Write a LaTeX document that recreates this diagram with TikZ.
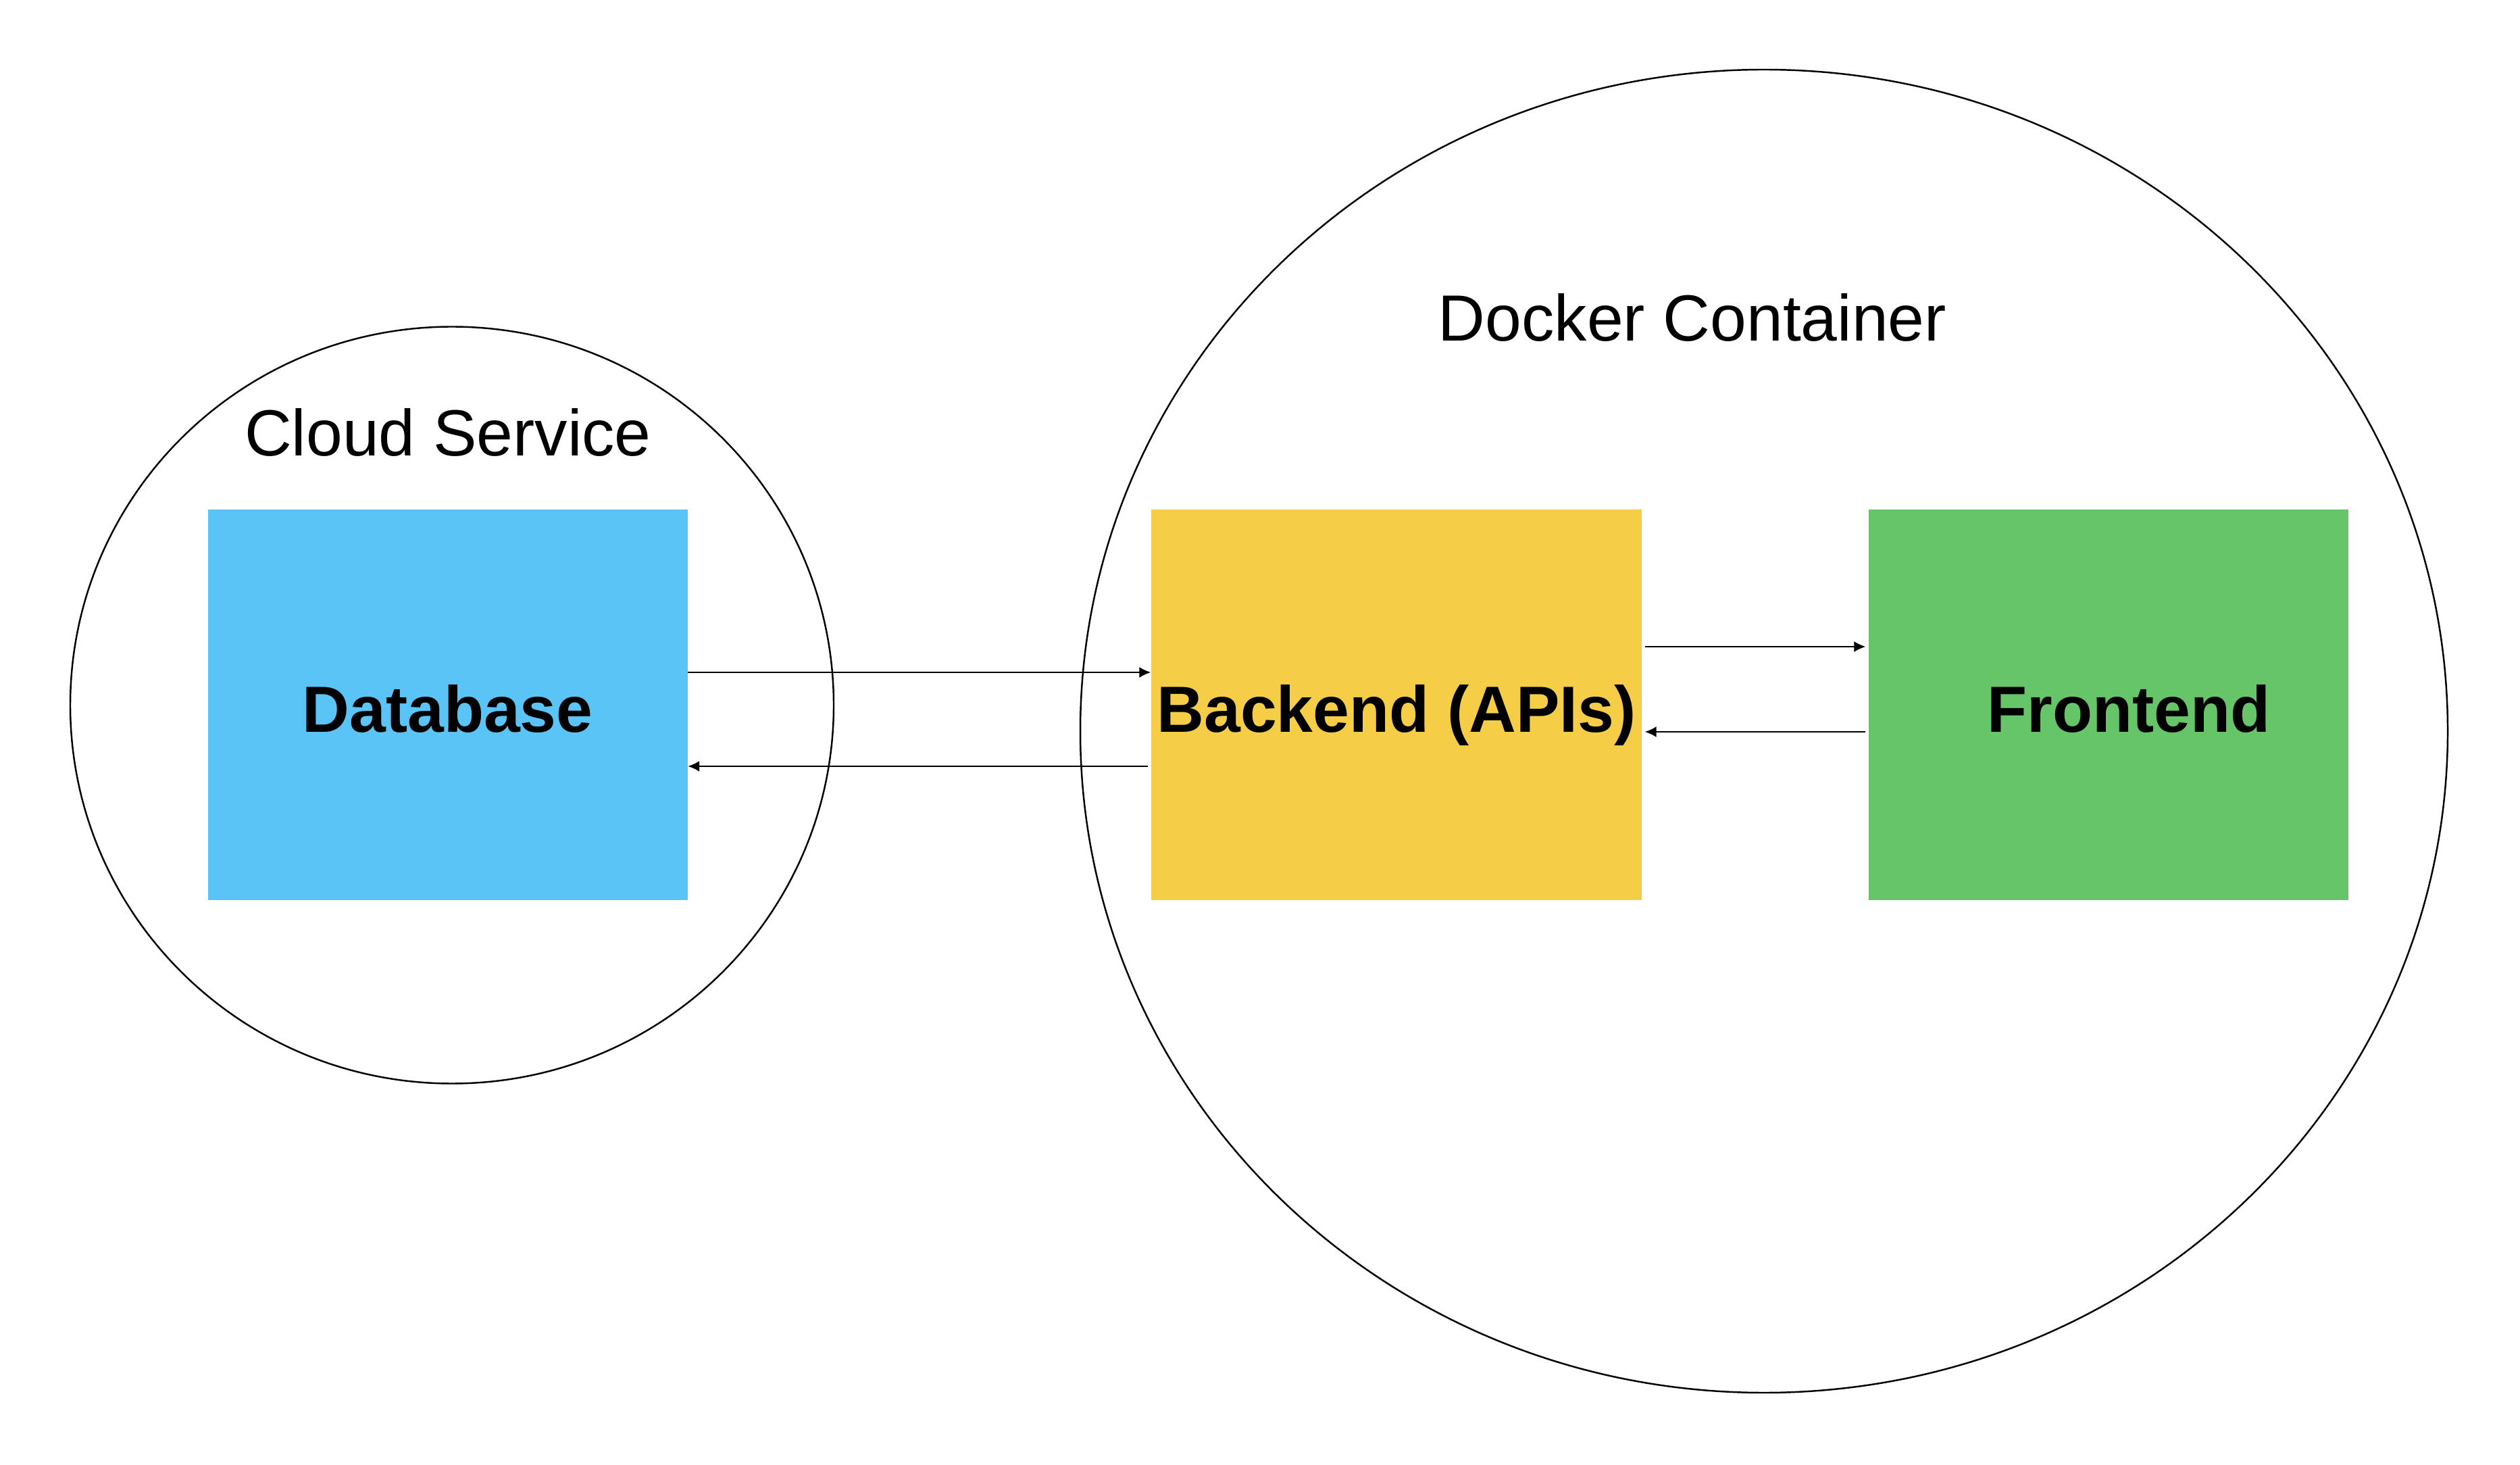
\documentclass[tikz,border=0pt]{standalone}
\usepackage{fontspec}
\setmainfont{Liberation Sans}
\usetikzlibrary{arrows.meta,shapes.geometric}
\tikzset{>={Latex[length=1.7mm,width=1.6mm]}}
\definecolor{dbblue}{RGB}{91,196,246}
\definecolor{beyellow}{RGB}{246,205,70}
\definecolor{fegreen}{RGB}{102,197,104}
\tikzstyle{block}=[rectangle,inner sep=0pt,minimum height=5.78cm,text height=0.82cm,text depth=0pt,font=\fontsize{27.5}{33}\selectfont\bfseries]
\tikzstyle{hull}=[ellipse,draw=black,line width=0.7pt,inner sep=0pt]
\tikzstyle{title}=[font=\fontsize{27.5}{33}\selectfont]
\tikzstyle{link}=[->,line width=0.6pt]

\begin{document}
\begin{tikzpicture}
\def \midy {11.24};
\def \wid {7.1};

\useasboundingbox (0,0) rectangle (37.30,21.67);

% containers
\node[hull,minimum width=11.30cm,minimum height=11.20cm] (cloud) at (6.69,11.235) {};
\node[hull,minimum width=20.24cm,minimum height=19.58cm] (docker) at (26.11,10.85) {};

\node[title] (cloudt) at (6.63,15.27) {Cloud Service};
\node[title] (dockert) at (25.05,16.97) {Docker Container};

% services
\node[block,fill=dbblue,minimum width=\wid cm] (db) at (6.625,\midy) {Database};
\node[block,fill=beyellow,minimum width=7.26cm] (be) at (20.67,\midy) {Backend (APIs)};
\node[block,fill=fegreen,minimum width=\wid cm] (fe) at (31.21,\midy) {\hspace*{0.6cm}Frontend};

\draw[link] ([yshift=0.48cm]db.east) -- ([yshift=0.48cm]be.west);
\draw[link] ([yshift=-0.91cm,xshift=-0.04cm]be.west) -- ([yshift=-0.91cm]db.east);
\draw[link] ([yshift=0.86cm,xshift=0.04cm]be.east) -- ([yshift=0.86cm,xshift=-0.04cm]fe.west);
\draw[link] ([yshift=-0.40cm,xshift=-0.04cm]fe.west) -- ([yshift=-0.40cm,xshift=0.04cm]be.east);

\end{tikzpicture}
\end{document}
